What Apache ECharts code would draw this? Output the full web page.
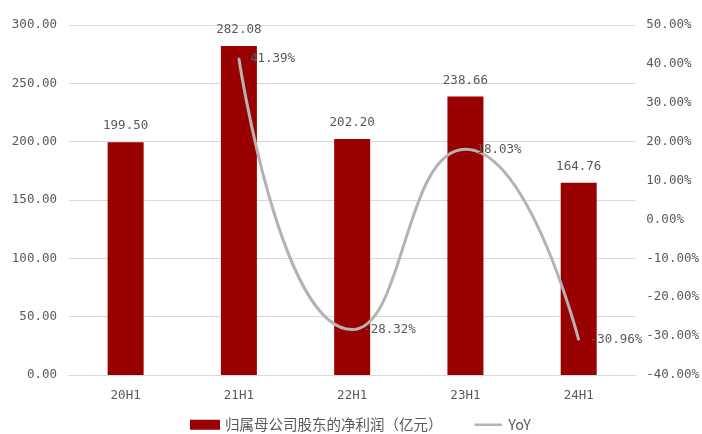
<!DOCTYPE html>
<html>
<head>
<meta charset="utf-8">
<script src="https://cdn.jsdelivr.net/npm/echarts@6/dist/echarts.min.js"></script>
<style>
  html, body { margin: 0; padding: 0; background: #ffffff; }
  #chart { width: 702px; height: 434px; }
</style>
</head>
<body>
<div id="chart"></div>
<script>
// Half-year periods
var categories = ['20H1', '21H1', '22H1', '23H1', '24H1'];
// Net profit attributable to parent shareholders (100 million yuan)
var netProfit = [199.50, 282.08, 202.20, 238.66, 164.76];
// Year-over-year growth (%)
var yoy = [null, 41.39, -28.32, 18.03, -30.96];

var NUM_FONT = '"DejaVu Sans Mono", "Noto Sans CJK SC", monospace';
var CJK_FONT = '"Noto Sans CJK SC", "Noto Sans", sans-serif';
var TEXT = '#595959';
var NUM_SIZE = 12.5;

var chart = echarts.init(document.getElementById('chart'));
chart.setOption({
  backgroundColor: '#ffffff',
  animation: false,
  textStyle: { fontFamily: NUM_FONT },
  grid: { left: 69, right: 65, top: 25, bottom: 59 },
  legend: {
    bottom: 2,
    left: 190,
    padding: 0,
    itemWidth: 30,
    itemHeight: 10,
    itemGap: 32,
    textStyle: { color: TEXT, fontSize: 14.5, fontFamily: CJK_FONT },
    data: [
      { name: '归属母公司股东的净利润（亿元）', icon: 'rect' },
      {
        name: 'YoY',
        icon: 'path://M0,0h30v0.01h-30zM0,4h30v3h-30zM0,10.99h30v0.01h-30z'
      }
    ]
  },
  xAxis: {
    type: 'category',
    data: categories,
    axisTick: { show: false },
    axisLine: { lineStyle: { color: '#d9d9d9', width: 1 } },
    axisLabel: { color: TEXT, fontSize: NUM_SIZE, margin: 14, fontFamily: NUM_FONT }
  },
  yAxis: [
    {
      type: 'value',
      min: 0, max: 300, interval: 50,
      axisLine: { show: false },
      axisTick: { show: false },
      splitLine: { lineStyle: { color: '#d9d9d9', width: 1 } },
      axisLabel: {
        color: TEXT, fontSize: NUM_SIZE, margin: 12, fontFamily: NUM_FONT,
        formatter: function (v) { return v.toFixed(2); }
      }
    },
    {
      type: 'value',
      min: -40, max: 50, interval: 10,
      axisLine: { show: false },
      axisTick: { show: false },
      splitLine: { show: false },
      axisLabel: {
        color: TEXT, fontSize: NUM_SIZE, margin: 11, fontFamily: NUM_FONT,
        formatter: function (v) { return v.toFixed(2) + '%'; }
      }
    }
  ],
  series: [
    {
      name: '归属母公司股东的净利润（亿元）',
      type: 'bar',
      data: netProfit,
      barWidth: 36,
      itemStyle: { color: '#990000' },
      label: {
        show: true,
        position: 'top',
        distance: 10,
        color: TEXT,
        fontSize: NUM_SIZE,
        fontFamily: NUM_FONT,
        formatter: function (p) { return p.value.toFixed(2); }
      }
    },
    {
      name: 'YoY',
      type: 'line',
      yAxisIndex: 1,
      data: yoy,
      smooth: 0.55,
      connectNulls: false,
      showSymbol: true,
      symbol: 'circle',
      symbolSize: 2,
      lineStyle: { color: '#b3b3b3', width: 3 },
      itemStyle: { color: '#b3b3b3' },
      label: {
        show: true,
        position: 'right',
        distance: 10,
        color: TEXT,
        fontSize: NUM_SIZE,
        fontFamily: NUM_FONT,
        formatter: function (p) { return p.value == null ? '' : p.value.toFixed(2) + '%'; }
      }
    }
  ]
});
</script>
</body>
</html>
